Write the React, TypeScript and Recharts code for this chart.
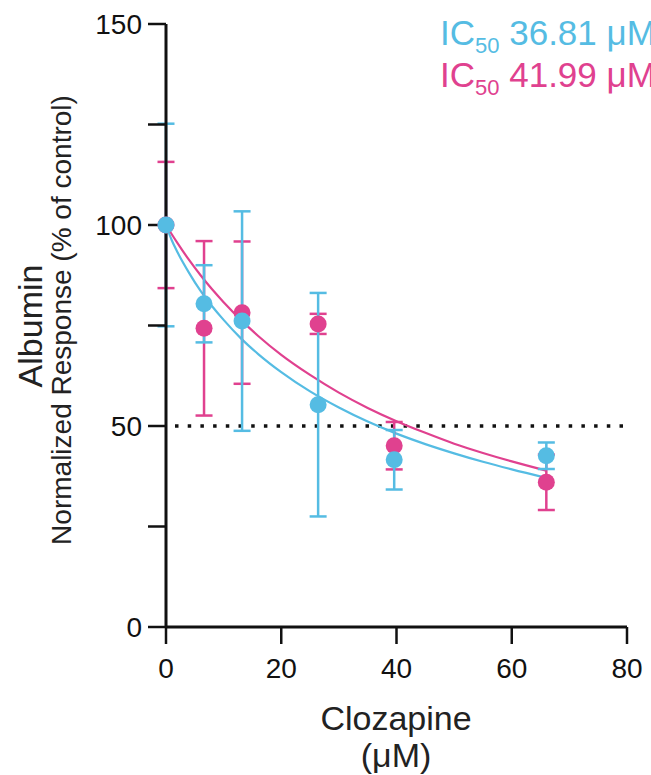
import React from 'react';
import { ComposedChart, Line, Scatter, ErrorBar, XAxis, YAxis, ReferenceLine } from 'recharts';

const BLUE = '#55BCE3';
const PINK = '#E0418F';
const INK = '#111';
const FONT = '"Liberation Sans", Arial, Helvetica, sans-serif';

// clozapine doses (µM)
const doses = [0, 6.6, 13.2, 26.4, 39.6, 66];

// normalized albumin response (% of control), mean and SD
const blueMean = [100, 80.4, 76.1, 55.3, 41.6, 42.6];
const blueErr = [25.2, 9.6, 27.3, 27.8, 7.4, 3.3];
const pinkMean = [100, 74.3, 78.2, 75.4, 45.1, 36.0];
const pinkErr = [15.7, 21.7, 17.7, 2.5, 5.9, 6.9];

// fitted curves
const fitX = [0, 1, 2, 4, 6, 8, 10, 13, 16, 20, 25, 30, 35, 40, 45, 50, 55, 60, 66];
const blueFit = [100, 96.2, 93.2, 88.1, 83.6, 79.8, 76.4, 71.8, 67.9, 63.4, 58.6, 54.6, 51.1, 48.1, 45.5, 43.2, 41.1, 39.2, 37.1];
const pinkFit = [100, 97.7, 95.5, 91.3, 87.5, 84.0, 80.8, 76.4, 72.4, 67.7, 62.7, 58.3, 54.5, 51.2, 48.3, 45.6, 43.3, 41.2, 38.9];

const xTicks = [0, 20, 40, 60, 80];
const yTicks = [0, 25, 50, 75, 100, 125, 150];

const bluePoints = doses.map((x, i) => ({ x, y: blueMean[i], err: blueErr[i] }));
const pinkPoints = doses.map((x, i) => ({ x, y: pinkMean[i], err: pinkErr[i] }));
const blueCurve = fitX.map((x, i) => ({ x, y: blueFit[i] }));
const pinkCurve = fitX.map((x, i) => ({ x, y: pinkFit[i] }));

const dot = (color: string) => (props: any) => (
  <circle cx={props.cx} cy={props.cy} r={8.5} fill={color} />
);

const App: React.FC = () => {
  return (
    <div style={{ position: 'absolute', left: 0, top: 0, width: 651, height: 775, overflow: 'hidden', background: '#fff' }}>
      <ComposedChart width={651} height={775} margin={{ top: 24, right: 24, bottom: 0, left: 0 }}>
        <XAxis
          type="number"
          dataKey="x"
          domain={[0, 80]}
          ticks={xTicks}
          interval={0}
          height={148}
          tickSize={17}
          tickMargin={14}
          axisLine={{ stroke: INK, strokeWidth: 3 }}
          tickLine={{ stroke: INK, strokeWidth: 2.5 }}
          tick={{ fontSize: 28, fill: INK, fontFamily: FONT }}
        />
        <YAxis
          type="number"
          dataKey="y"
          domain={[0, 150]}
          ticks={yTicks}
          interval={0}
          width={166}
          tickSize={18}
          tickMargin={6}
          axisLine={{ stroke: INK, strokeWidth: 3 }}
          tickLine={{ stroke: INK, strokeWidth: 2.5 }}
          tick={{ fontSize: 28, fill: INK, fontFamily: FONT }}
          tickFormatter={(v: number) => (v % 50 === 0 ? String(v) : '')}
        />
        <ReferenceLine
          y={50}
          stroke={INK}
          strokeWidth={3.5}
          strokeDasharray="3.5 9.2"
          strokeDashoffset={-9}
        />
        <Line data={pinkCurve} dataKey="y" type="monotone" stroke={PINK} strokeWidth={2.2} dot={false} isAnimationActive={false} />
        <Line data={blueCurve} dataKey="y" type="monotone" stroke={BLUE} strokeWidth={2.2} dot={false} isAnimationActive={false} />
        <Scatter data={pinkPoints} dataKey="y" shape={dot(PINK)} isAnimationActive={false}>
          <ErrorBar dataKey="err" direction="y" width={8.5} stroke={PINK} strokeWidth={2.5} isAnimationActive={false} />
        </Scatter>
        <Scatter data={bluePoints} dataKey="y" shape={dot(BLUE)} isAnimationActive={false}>
          <ErrorBar dataKey="err" direction="y" width={8.5} stroke={BLUE} strokeWidth={2.5} isAnimationActive={false} />
        </Scatter>
      </ComposedChart>

      <svg width={651} height={775} style={{ position: 'absolute', left: 0, top: 0, pointerEvents: 'none' }}>
        <g fontFamily={FONT}>
          <text transform="translate(42,326) rotate(-90)" textAnchor="middle" fontSize={34} fill="#222">Albumin</text>
          <text transform="translate(71,320) rotate(-90)" textAnchor="middle" fontSize={28} fill="#222">Normalized Response (% of control)</text>
          <text x={396} y={730} textAnchor="middle" fontSize={34} fill="#222">Clozapine</text>
          <text x={396} y={767} textAnchor="middle" fontSize={34} fill="#222">(μM)</text>
          <text x={440} y={45} fontSize={35} fill={BLUE}>
            IC<tspan fontSize={22} dy={8}>50</tspan><tspan dy={-8}> 36.81 μM</tspan>
          </text>
          <text x={440} y={87} fontSize={35} fill={PINK}>
            IC<tspan fontSize={22} dy={8}>50</tspan><tspan dy={-8}> 41.99 μM</tspan>
          </text>
        </g>
      </svg>
    </div>
  );
};

export default App;
